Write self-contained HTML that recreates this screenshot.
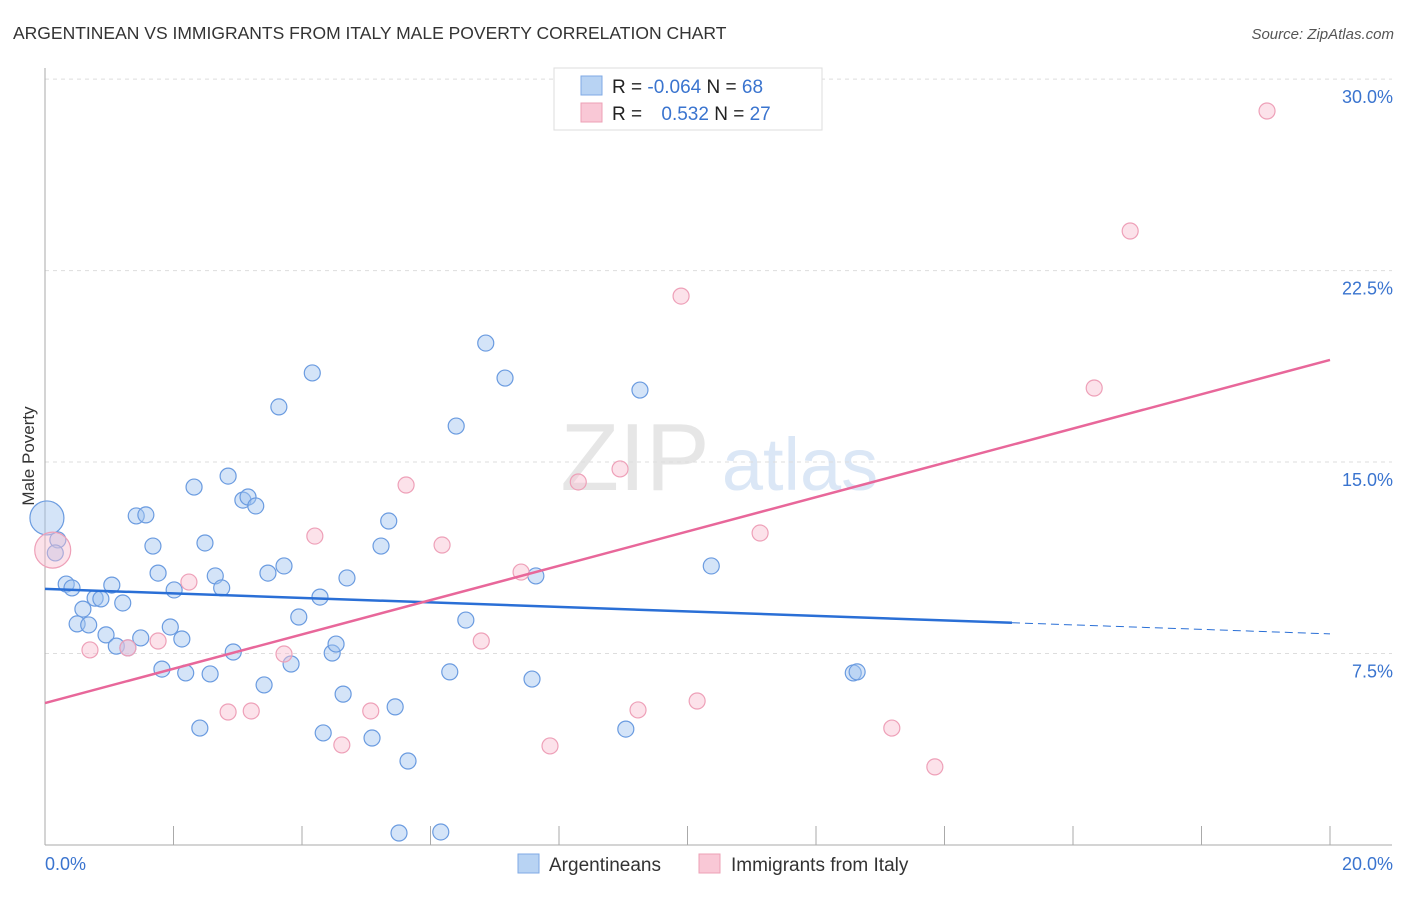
<!DOCTYPE html>
<html><head><meta charset="utf-8"><style>
body{margin:0;background:#fff;font-family:"Liberation Sans",sans-serif}
svg text{font-family:"Liberation Sans",sans-serif}
</style></head><body>
<svg id="chart" width="1406" height="892" xmlns="http://www.w3.org/2000/svg">
<text x="13" y="39" font-size="17.5" fill="#333">ARGENTINEAN VS IMMIGRANTS FROM ITALY MALE POVERTY CORRELATION CHART</text>
<text x="1394" y="39" font-size="15" fill="#555" text-anchor="end" font-style="italic">Source: ZipAtlas.com</text>
<text transform="translate(34,456) rotate(-90)" font-size="17" fill="#333" text-anchor="middle">Male Poverty</text>
<g>
<text x="635" y="490" font-size="96" fill="#e6e6e6" font-family="Liberation Serif" text-anchor="middle">ZIP</text>
<text x="800" y="490" font-size="74" fill="#dbe7f6" text-anchor="middle">atlas</text>
</g>
<g id="grid"></g>
<g id="axes"></g>
<g id="points"></g>
<g id="lines"></g>
<g>
<rect x="554" y="68" width="268" height="62" fill="#fff" stroke="#ddd"/>
<rect x="581" y="76" width="21" height="19" fill="#b8d3f3" stroke="#7fa9e4"/>
<rect x="581" y="103" width="21" height="19" fill="#f9c8d6" stroke="#eda0b6"/>
<text x="612" y="93" font-size="19" fill="#222">R = <tspan fill="#3a74cf">-0.064</tspan>   N = <tspan fill="#3a74cf">68</tspan></text>
<text x="612" y="120" font-size="19" fill="#222">R = <tspan fill="#3a74cf" dx="14">0.532</tspan>   N = <tspan fill="#3a74cf">27</tspan></text>
</g>
<g>
<rect x="518" y="854" width="21" height="19" fill="#b8d3f3" stroke="#7fa9e4"/>
<text x="549" y="871" font-size="19" fill="#333">Argentineans</text>
<rect x="699" y="854" width="21" height="19" fill="#f9c8d6" stroke="#eda0b6"/>
<text x="731" y="871" font-size="19" fill="#333">Immigrants from Italy</text>
</g>
</svg>
<script>
const yTicks=[7.5,15,22.5,30];
const yTickLabels=["7.5%","15.0%","22.5%","30.0%"];
const xTickLabels=["0.0%","20.0%"];
const blueX=[.03,.20,.16,.33,.42,.59,.78,.87,1.04,1.21,.50,.68,.95,1.11,1.29,1.49,1.42,1.57,1.68,1.76,1.82,1.95,2.01,2.13,2.19,2.32,2.41,2.49,2.57,2.65,2.75,2.85,2.93,3.08,3.16,3.28,3.41,3.47,3.64,3.72,3.83,3.95,4.16,4.28,4.33,4.47,4.53,4.64,4.70,5.09,5.23,5.35,5.45,5.51,5.65,6.16,6.30,6.40,6.55,6.86,7.16,7.58,7.64,9.04,9.26,10.37,12.58,12.64];
const blueY=[12.81,11.95,11.44,10.22,10.07,9.24,9.67,9.64,10.18,9.48,8.66,8.62,8.23,7.79,7.72,8.11,12.89,12.93,11.71,10.65,6.89,8.54,9.99,8.07,6.74,14.02,4.58,11.83,6.70,10.54,10.07,14.45,7.56,13.51,13.63,13.28,6.27,10.65,17.16,10.93,7.09,8.93,18.49,9.71,4.39,7.52,7.87,5.91,10.46,4.19,11.71,12.69,5.41,0.47,3.29,0.51,6.78,16.41,8.81,19.66,18.29,6.50,10.54,4.54,17.82,10.93,6.74,6.78];
const pinkX=[.12,.70,1.29,1.76,2.24,2.85,3.21,3.72,4.20,4.62,5.07,5.62,6.18,6.79,7.41,7.86,8.30,8.95,9.23,9.90,10.15,11.13,13.18,13.85,16.33,16.89,19.02];
const pinkY=[11.55,7.64,7.72,7.99,10.30,5.21,5.25,7.48,12.10,3.92,5.25,14.10,11.75,7.99,10.69,3.88,14.22,14.73,5.29,21.50,5.64,12.22,4.58,3.06,17.90,24.05,28.75];
const blueTrend=[10.03,8.27];
const blueSolidEnd=15.05;
const pinkTrend=[5.56,19.0];
const NS="http://www.w3.org/2000/svg";
const X=v=>45+v*64.25;
const Y=v=>845-v*25.53;
function mk(tag,attrs,parent){const e=document.createElementNS(NS,tag);for(const k in attrs)e.setAttribute(k,attrs[k]);document.getElementById(parent).appendChild(e);return e;}
yTicks.forEach((t,i)=>{
 const g=mk('line',{x1:45,x2:1392,y1:Y(t),y2:Y(t),stroke:'#ddd','stroke-dasharray':'4,4'},'grid');
 
 
 const l=mk('text',{x:1393,y:Y(t)+24,'font-size':18,fill:'#3a74cf','text-anchor':'end'},'grid');
 l.textContent=yTickLabels[i];
 
 
});
const ax=mk('line',{x1:45,x2:45,y1:68,y2:845,stroke:'#aaa'},'axes');


const bx=mk('line',{x1:45,x2:1392,y1:845,y2:845,stroke:'#aaa'},'axes');


for(let i=1;i<=10;i++){const t=mk('line',{x1:X(i*2),x2:X(i*2),y1:826,y2:845,stroke:'#aaa'},'axes');
 
 }
[[0,'start',45],[20,'end',1393]].forEach((d,i)=>{const t=mk('text',{x:d[2],y:870,'font-size':18,fill:'#3a74cf','text-anchor':d[1]},'axes');t.textContent=xTickLabels[i];
 
 });
blueX.forEach((x,i)=>{const c=mk('circle',{cx:X(x),cy:Y(blueY[i]),r:i==0?17:8,fill:'rgba(160,196,240,0.45)',stroke:'#6a9be0','stroke-width':1.2},'points');
 
 });
pinkX.forEach((x,i)=>{const c=mk('circle',{cx:X(x),cy:Y(pinkY[i]),r:i==0?18:8,fill:'rgba(248,190,208,0.45)',stroke:'#eea0b8','stroke-width':1.2},'points');
 
 });
const by=x=>blueTrend[0]+(blueTrend[1]-blueTrend[0])*x/20;
const l1=mk('line',{x1:X(0),y1:Y(blueTrend[0]),x2:X(blueSolidEnd),y2:Y(by(blueSolidEnd)),stroke:'#2a6fd6','stroke-width':2.5},'lines');


const l2=mk('line',{x1:X(blueSolidEnd),y1:Y(by(blueSolidEnd)),x2:X(20),y2:Y(blueTrend[1]),stroke:'#2a6fd6','stroke-width':1,'stroke-dasharray':'8,5'},'lines');


const l3=mk('line',{x1:X(0),y1:Y(pinkTrend[0]),x2:X(20),y2:Y(pinkTrend[1]),stroke:'#e8679a','stroke-width':2.5},'lines');


</script>
</body></html>
